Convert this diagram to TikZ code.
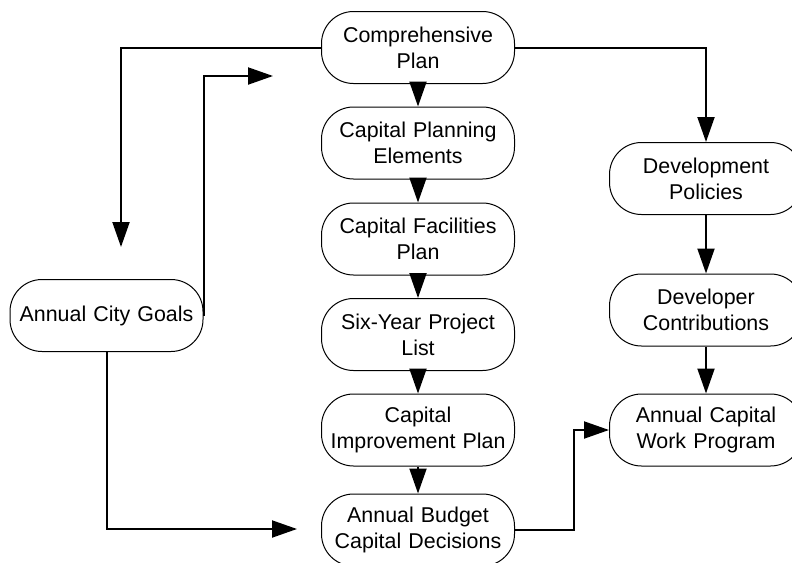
\documentclass[tikz,border=0pt]{standalone}
\usepackage{fontspec}
\setmainfont{Liberation Sans}
\usepackage{tikz}
\usetikzlibrary{arrows.meta}

\begin{document}
\begin{tikzpicture}[
      x=0.5pt, y=-0.5pt,
      stage/.style={
        rectangle,
        rounded corners=16pt,
        draw=black,
        line width=0.5pt,
        align=center,
        text width=92pt,
        inner sep=0pt,
        minimum width=96.5pt,
        minimum height=36pt,
        font=\fontsize{10.7}{13}\selectfont
      },
      flow/.style={
        line width=1pt,
        -{Triangle[length=12.5pt, width=8.5pt]}
      }
    ]

    \useasboundingbox (0,0) rectangle (792,562);

    % centre column
    \node [stage] (CompPlan) at (418,47.5) {Comprehensive\\Plan};
    \node [stage] (CapElem) at (418,143) {Capital Planning\\Elements};
    \node [stage] (CapFac) at (418,239) {Capital Facilities\\Plan};
    \node [stage] (SixYear) at (418,334.5) {Six-Year Project\\List};
    \node [stage] (CIP) at (418,430) {Capital\\Improvement Plan};
    \node [stage] (Budget) at (418,530) {Annual Budget\\Capital Decisions};

    % right column
    \node [stage] (DevPol) at (706,178.5) {Development\\Policies};
    \node [stage] (DevContrib) at (706,310) {Developer\\Contributions};
    \node [stage] (WorkProg) at (706,430) {Annual Capital\\Work Program};

    % left
    \node [stage] (CityGoals) at (106.5,315.5) {Annual City Goals};

    \coordinate (GoalsIn) at (121,247);
    \coordinate (PlanIn) at (273,76);
    \coordinate (BudgetIn) at (297,529);
    \coordinate (Jog) at (574,0);

    \draw [flow] (CompPlan) -- (CapElem);
    \draw [flow] (CapElem) -- (CapFac);
    \draw [flow] (CapFac) -- (SixYear);
    \draw [flow] (SixYear) -- (CIP);
    \draw [flow] (CIP) -- (Budget);

    \draw [flow] (CompPlan.east) -| (DevPol.north);
    \draw [flow] (DevPol) -- (DevContrib);
    \draw [flow] (DevContrib) -- (WorkProg);
    \draw [flow] (Budget.east) -- (Jog |- Budget.east) |- (WorkProg.west);

    \draw [flow] (CompPlan.west) -| (GoalsIn);
    \draw [flow] (CityGoals.east) |- (PlanIn);
    \draw [flow] (CityGoals.south) |- (BudgetIn);

    \end{tikzpicture}
\end{document}
